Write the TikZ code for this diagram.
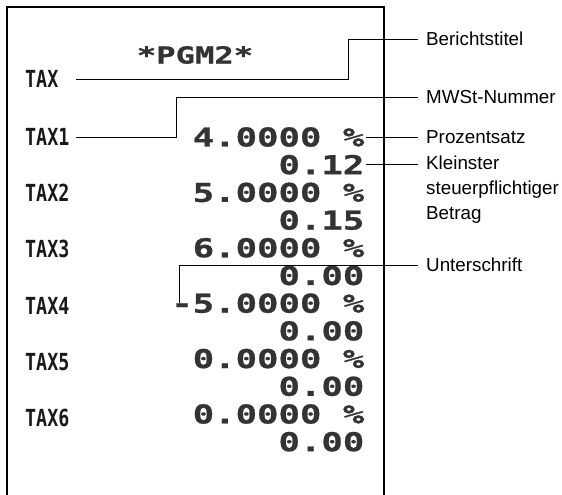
\documentclass[tikz,border=0pt]{standalone}
\usepackage{fontspec}
\setmainfont{Liberation Sans}
\newfontfamily\rcptfont[FakeStretch=1.37,FakeBold=0.9]{DejaVu Sans Mono}
\newfontfamily\taxfont[FakeStretch=0.78]{DejaVu Sans Mono}

\begin{document}
\begin{tikzpicture}[x=1pt, y=-1pt,
    val/.style={anchor=east, inner xsep=1.5pt, inner ysep=0pt, text=black!80, font=\rcptfont\bfseries\fontsize{26}{28}\selectfont},
    taxlbl/.style={anchor=west, inner sep=0pt, text width=51pt, align=left, text=black!90, font=\taxfont\bfseries\fontsize{23.5}{28}\selectfont},
    note/.style={anchor=west, inner xsep=8pt, inner ysep=0pt, font=\fontsize{18.8}{25}\selectfont},
    lead/.style={line width=0.9pt}]
          \useasboundingbox (0,0) rectangle (562,495);
          \draw[line width=1.5pt] (7,500) -- (7,7) -- (384,7) -- (384,500);
          \node[val, anchor=center, font=\rcptfont\bfseries\fontsize{23.5}{28}\selectfont] (pgm) at (195,55) {*PGM2*};
          \node[taxlbl] (tax) at (25,79) {TAX};
          \foreach \n in {1,...,6}
            \node[taxlbl] (tax\n) at (25,137+56.2*\n-56.2) {TAX\n};
          \foreach \v [count=\k from 0] in {4.0000 \%, 0.12, 5.0000 \%, 0.15, 6.0000 \%, 0.00, -5.0000 \%, 0.00, 0.0000 \%, 0.00, 0.0000 \%, 0.00}
            \node[val] (v\k) at (366,137+27.7*\k) {\v};
          \coordinate (knick1) at (348,39);
          \coordinate (knick2) at (176,97);
          \node[note] (titel) at (418,39) {Berichtstitel};
          \node[note] (mwst) at (418,97) {MWSt-Nummer};
          \node[note] (proz) at (418,137) {Prozentsatz};
          \node[note, anchor=north west, align=left] (klein) at (418,156) {Kleinster\\steuerpflichtiger\\Betrag};
          \node[note] (unter) at (418,265) {Unterschrift};
          \draw[lead] (tax.east) -| (knick1) -- (titel.west);
          \draw[lead] (tax1.east) -| (knick2) -- (mwst.west);
          \draw[lead] (v0.east) -- (proz.west);
          \draw[lead] (v1.east) -- (v1.east -| klein.west);
          \draw[lead] (unter.west) -| ([xshift=10pt]v6.west);
        \end{tikzpicture}
\end{document}
